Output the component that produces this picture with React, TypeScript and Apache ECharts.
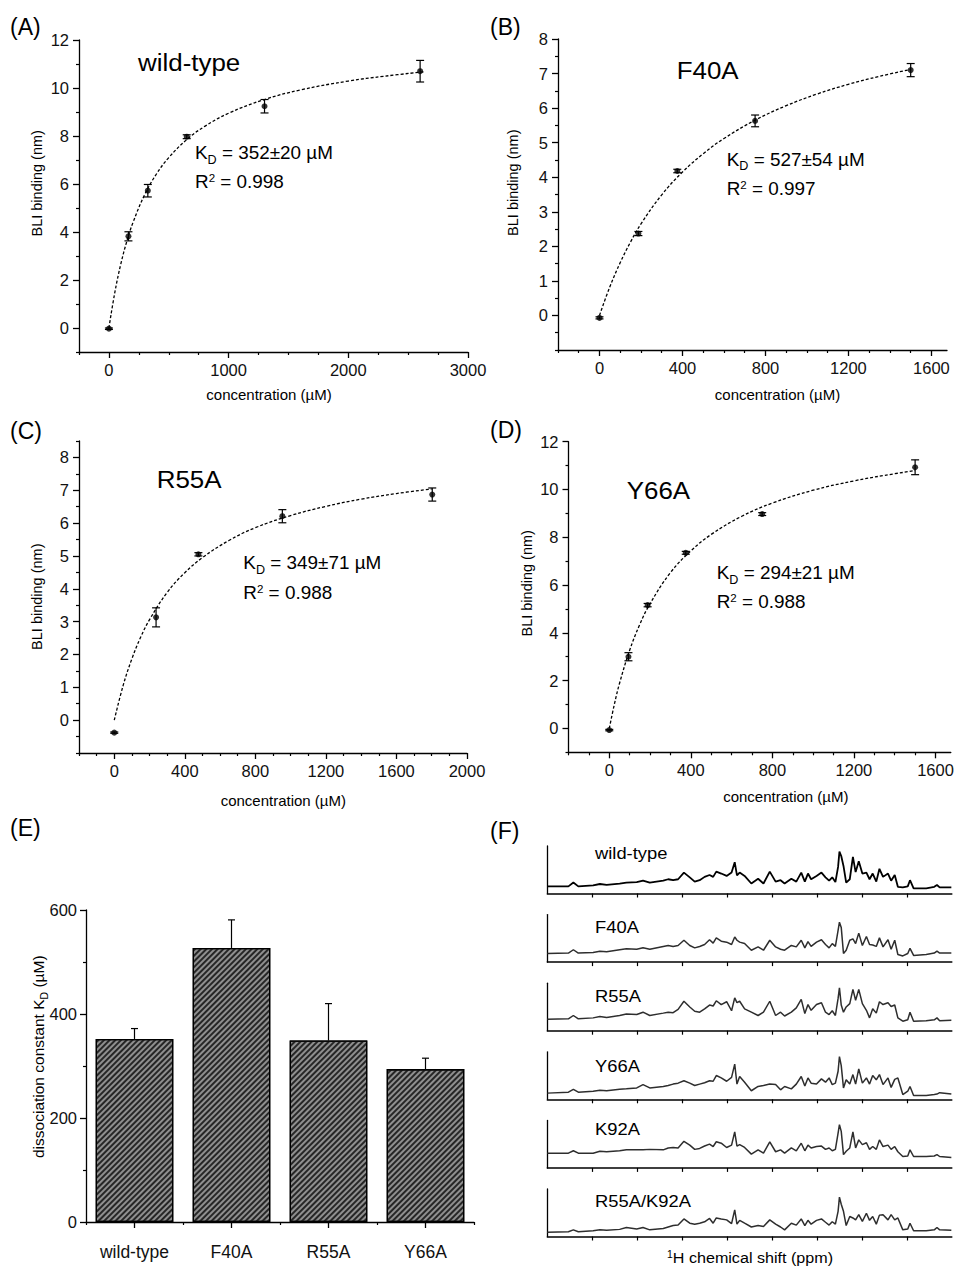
import React, { useEffect, useRef } from "react";
import * as echarts from "echarts";

const FONT = "'Liberation Sans', Arial, Helvetica, sans-serif";

// ---------- (A) wild-type ----------
const concA = [0, 163, 325, 650, 1300, 2600];
const bindA = [-0.03, 3.82, 5.72, 7.97, 9.24, 10.7];
const errA = [0.03, 0.19, 0.26, 0.08, 0.28, 0.45];
const fitXA = [0, 50, 100, 150, 200, 300, 400, 500, 650, 800, 1000, 1300, 1600, 2000, 2300, 2640];
const fitYA = [0, 1.5, 2.68, 3.62, 4.38, 5.57, 6.44, 7.1, 7.85, 8.4, 8.95, 9.52, 9.92, 10.29, 10.49, 10.68];
const xTicksA = [0, 1000, 2000, 3000];
const yTicksA = [0, 2, 4, 6, 8, 10, 12];

// ---------- (B) F40A ----------
const concB = [0, 187.5, 375, 750, 1500];
const bindB = [-0.07, 2.37, 4.18, 5.63, 7.1];
const errB = [0.03, 0.06, 0.05, 0.17, 0.19];
const fitXB = [0, 50, 100, 150, 200, 300, 400, 500, 600, 750, 900, 1050, 1200, 1350, 1500];
const fitYB = [0, 0.83, 1.53, 2.13, 2.65, 3.49, 4.15, 4.68, 5.12, 5.65, 6.07, 6.41, 6.69, 6.92, 7.12];
const xTicksB = [0, 400, 800, 1200, 1600];
const yTicksB = [0, 1, 2, 3, 4, 5, 6, 7, 8];

// ---------- (C) R55A ----------
const concC = [0, 237, 477, 953, 1803];
const bindC = [-0.38, 3.13, 5.05, 6.21, 6.87];
const errC = [0.02, 0.29, 0.05, 0.2, 0.2];
const fitXC = [0, 50, 100, 150, 200, 300, 400, 500, 650, 800, 1000, 1200, 1400, 1600, 1800];
const fitYC = [0, 1.05, 1.87, 2.53, 3.06, 3.89, 4.49, 4.95, 5.47, 5.86, 6.23, 6.51, 6.73, 6.9, 7.04];
const xTicksC = [0, 400, 800, 1200, 1600, 2000];
const yTicksC = [0, 1, 2, 3, 4, 5, 6, 7, 8];

// ---------- (D) Y66A ----------
const concD = [0, 94, 188, 375, 750, 1500];
const bindD = [-0.07, 3.0, 5.16, 7.35, 8.97, 10.93];
const errD = [0.03, 0.17, 0.07, 0.06, 0.06, 0.31];
const fitXD = [0, 25, 50, 100, 150, 200, 300, 400, 500, 650, 800, 1000, 1200, 1350, 1500];
const fitYD = [0, 1.01, 1.88, 3.27, 4.36, 5.22, 6.52, 7.43, 8.12, 8.88, 9.43, 9.97, 10.36, 10.59, 10.79];
const xTicksD = [0, 400, 800, 1200, 1600];
const yTicksD = [0, 2, 4, 6, 8, 10, 12];

// ---------- (E) dissociation constants ----------
const variants = ["wild-type", "F40A", "R55A", "Y66A"];
const kd = [352, 527, 349, 294];
const kdErr = [20, 54, 71, 21];

// ---------- (F) 1D 1H NMR spectra ----------
const shifts = [0.00,0.47,0.58,0.69,1.02,1.17,1.32,1.61,1.76,1.99,2.13,2.28,2.58,2.69,2.80,2.91,3.04,3.17,3.28,3.39,3.50,3.61,3.69,3.76,3.87,3.99,4.10,4.17,4.22,4.28,4.39,4.54,4.69,4.81,4.95,5.08,5.19,5.28,5.43,5.54,5.65,5.73,5.80,5.87,5.99,6.10,6.19,6.27,6.34,6.41,6.47,6.50,6.54,6.59,6.65,6.73,6.80,6.86,6.93,7.01,7.10,7.17,7.24,7.32,7.39,7.47,7.58,7.65,7.73,7.80,7.91,8.02,8.07,8.15,8.43,8.61,8.67,8.73,8.99];
const specWT = [1.5,1.5,2.3,1.5,1.7,2.0,1.8,2.1,2.3,2.4, 2.7,2.3,2.7,3.0,2.8,3.0,4.4,3.4,2.5,2.8, 3.5,3.9,3.5,4.6,4.2,3.7,4.4,6.6,3.8,4.4, 3.7,2.1,3.1,2.1,4.6,2.5,2.8,2.1,3.1,2.5, 4.4,2.5,4.2,3.0,3.7,4.4,3.4,2.7,3.4,2.4, 5.6,8.8,7.9,5.8,2.3,3.0,7.7,4.5,6.8,4.2, 4.4,3.0,4.2,2.5,5.2,3.5,4.2,2.7,3.9,1.4, 1.3,1.5,2.8,1.1,1.1,1.4,1.8,1.3,1.3];
const specF40A = [1.8,1.9,2.6,1.9,2.0,2.3,2.2,2.6,2.8,2.7, 3.0,2.7,3.3,3.5,3.3,3.5,4.6,3.5,3.0,3.3, 3.7,4.7,4.0,5.1,4.4,4.2,3.7,5.3,4.6,4.2, 3.9,2.5,3.2,2.5,4.6,3.2,2.7,2.5,3.5,3.2, 4.6,3.0,4.3,3.3,4.2,4.7,3.7,3.0,3.9,3.3, 6.7,8.4,7.3,1.8,2.5,4.6,4.9,3.9,6.1,3.5, 5.4,3.7,3.6,3.3,5.1,3.2,4.7,2.7,4.6,1.6, 1.3,1.8,2.9,1.4,1.6,1.9,2.3,1.9,1.9];
const specR55A = [2.4,2.5,3.2,2.5,2.7,3.0,2.8,3.2,3.5,3.4, 3.9,3.2,3.7,3.9,3.8,4.5,6.2,5.0,4.1,3.9, 4.6,5.4,5.2,6.3,5.5,6.1,4.2,6.9,5.9,6.2, 4.6,3.9,3.2,3.9,6.2,3.2,3.9,3.1,3.9,4.8, 6.6,3.6,5.5,4.3,5.5,5.9,3.9,3.4,4.2,3.2, 6.8,9.0,5.4,3.9,5.0,5.7,8.7,6.4,8.7,5.7, 4.3,2.7,4.6,3.7,6.1,5.5,5.9,5.1,5.4,2.7, 2.0,2.3,3.9,2.0,2.1,2.3,2.7,2.1,2.2];
const specY66A = [1.3,1.5,2.1,1.5,1.7,1.9,1.8,2.1,2.2,2.4, 3.1,2.4,2.7,2.9,3.2,3.4,3.9,3.4,2.9,3.2, 3.5,3.9,3.8,5.0,4.5,3.8,4.6,7.4,3.2,4.8, 3.6,1.8,2.7,2.9,3.2,3.1,2.0,2.7,2.2,3.2, 4.8,2.8,4.5,3.4,3.2,4.3,3.6,4.5,3.1,3.4, 5.9,9.0,7.1,2.4,4.1,3.2,5.2,3.2,6.4,3.4, 4.5,3.2,5.0,4.1,5.2,3.1,4.5,2.5,4.2,4.5, 1.0,1.7,2.7,0.8,0.8,1.0,1.1,1.4,1.1];
const specK92A = [3.1,3.1,3.6,3.1,3.1,3.5,3.4,3.6,3.8,3.8, 3.8,3.9,3.8,4.2,4.3,4.2,5.6,4.8,3.9,4.1, 4.6,5.0,4.5,5.5,5.2,4.3,4.8,7.6,4.6,4.9, 4.3,2.9,3.8,3.1,5.5,3.4,3.8,3.1,4.2,3.6, 5.2,3.6,4.8,4.2,4.5,4.6,3.9,4.2,3.6,3.9, 7.3,9.1,7.7,2.8,3.5,4.2,7.6,4.2,5.9,4.9, 5.3,3.9,4.5,3.9,5.9,4.5,4.8,3.9,4.5,3.4, 2.4,2.5,3.8,2.4,2.4,2.5,2.8,2.4,2.2];
const specR55AK92A = [0.9,1.0,1.4,1.0,1.2,1.4,1.3,1.5,1.9,1.6, 1.9,1.4,1.7,2.0,2.3,2.4,3.7,2.8,2.6,2.8, 3.1,3.8,2.8,3.9,3.7,3.5,2.7,5.6,2.6,3.4, 2.8,2.0,2.3,2.1,3.5,2.6,2.0,1.4,2.8,2.4, 3.7,2.3,3.4,2.6,3.4,3.7,3.0,2.4,3.1,2.6, 5.3,8.3,6.8,5.3,2.3,4.2,3.9,3.5,4.6,3.2, 4.9,3.4,4.2,2.6,4.5,4.6,3.5,4.6,3.5,3.9, 1.4,1.6,2.8,1.2,1.2,1.4,1.9,1.4,1.3];
const spectrumNames = ["wild-type", "F40A", "R55A", "Y66A", "K92A", "R55A/K92A"];
const spectra = [specWT, specF40A, specR55A, specY66A, specK92A, specR55AK92A];
const shiftTicks = [1, 2, 3, 4, 5, 6, 7, 8];

// ---------- helpers ----------
function minorTicks(min: number, max: number, step: number, majors: number[]) {
  const out: number[] = [];
  const n = Math.round((max - min) / step) + 1;
  for (let i = 0; i <= n; i++) {
    const v = +(min + i * step).toFixed(6);
    if (v > max + 1e-9) break;
    if (!majors.some((m) => Math.abs(m - v) < 1e-9)) out.push(v);
  }
  return out;
}

function valueAxes(gridIndex: number, min: number, max: number, majors: number[], minors: number[], isX: boolean) {
  const common = {
    type: "value",
    gridIndex,
    min,
    max,
    position: isX ? "bottom" : "left",
    splitLine: { show: false },
  };
  const major = {
    ...common,
    axisLine: { show: true, onZero: false, lineStyle: { color: "#000", width: 1.3 } },
    axisTick: { show: true, inside: false, customValues: majors, length: 6, lineStyle: { color: "#000", width: 1.3 } },
    axisLabel: {
      show: true,
      customValues: majors,
      fontSize: 16.5,
      fontFamily: FONT,
      color: "#111",
      margin: isX ? 9 : 10,
      formatter: (v: number) => String(v),
    },
  };
  const minor = {
    ...common,
    axisLine: { show: false, onZero: false },
    axisTick: { show: true, inside: false, customValues: minors, length: 3, lineStyle: { color: "#000", width: 1.2 } },
    axisLabel: { show: false },
  };
  return [major, minor];
}

function errRender(capBottom: boolean, half: number) {
  return (params: any, api: any) => {
    const x = api.value(0);
    const lo = api.value(1);
    const hi = api.value(2);
    const a = api.coord([x, lo]);
    const b = api.coord([x, hi]);
    const st = { stroke: "#000", lineWidth: 1.2 };
    const children: any[] = [
      { type: "line", shape: { x1: a[0], y1: a[1], x2: b[0], y2: b[1] }, style: st },
      { type: "line", shape: { x1: b[0] - half, y1: b[1], x2: b[0] + half, y2: b[1] }, style: st },
    ];
    if (capBottom) children.push({ type: "line", shape: { x1: a[0] - half, y1: a[1], x2: a[0] + half, y2: a[1] }, style: st });
    return { type: "group", children };
  };
}

function txt(x: number, y: number, text: string, size: number, opt: any = {}) {
  const align = opt.align || "left";
  return {
    type: "text",
    x,
    y,
    rotation: opt.rotation || 0,
    scaleX: opt.scaleX || 1,
    silent: true,
    z: 100,
    style: {
      text,
      fontSize: size,
      fontFamily: FONT,
      fill: "#000",
      align,
      verticalAlign: "middle",
      textAlign: align,
      textVerticalAlign: "middle",
      rich: opt.rich,
    },
  };
}

const kdRich = {
  n: { fontSize: 18, fontFamily: FONT, fill: "#000", lineHeight: 26, verticalAlign: "middle" },
  s: { fontSize: 12, fontFamily: FONT, fill: "#000", lineHeight: 26, verticalAlign: "bottom" },
};
const r2Rich = {
  n: { fontSize: 18, fontFamily: FONT, fill: "#000", lineHeight: 18, verticalAlign: "middle" },
  p: { fontSize: 11, fontFamily: FONT, fill: "#000", lineHeight: 18, verticalAlign: "top" },
};

export default function App() {
  const ref = useRef<HTMLDivElement>(null);

  useEffect(() => {
    if (!ref.current) return;
    const chart = echarts.init(ref.current, undefined, { renderer: "svg" });

    const panels = [
      { conc: concA, bind: bindA, err: errA, fx: fitXA, fy: fitYA, xMin: -250, xMax: 3000, xMaj: xTicksA, xStep: 250, yMin: -1, yMax: 12, yMaj: yTicksA, yStep: 1, grid: { left: 79, top: 40, width: 389, height: 312 } },
      { conc: concB, bind: bindB, err: errB, fx: fitXB, fy: fitYB, xMin: -200, xMax: 1675, xMaj: xTicksB, xStep: 100, yMin: -1, yMax: 8, yMaj: yTicksB, yStep: 0.5, grid: { left: 558, top: 39, width: 389, height: 311 } },
      { conc: concC, bind: bindC, err: errC, fx: fitXC, fy: fitYC, xMin: -200, xMax: 2000, xMaj: xTicksC, xStep: 100, yMin: -1, yMax: 8.5, yMaj: yTicksC, yStep: 0.5, grid: { left: 79, top: 441, width: 388, height: 312 } },
      { conc: concD, bind: bindD, err: errD, fx: fitXD, fy: fitYD, xMin: -200, xMax: 1675, xMaj: xTicksD, xStep: 100, yMin: -1, yMax: 12, yMaj: yTicksD, yStep: 1, grid: { left: 568.5, top: 441.7, width: 382.3, height: 310.6 } },
    ];

    const grid: any[] = [];
    const xAxis: any[] = [];
    const yAxis: any[] = [];
    const series: any[] = [];

    panels.forEach((p) => {
      const gi = grid.length;
      grid.push({ ...p.grid, containLabel: false, outerBoundsMode: "none" });
      const xi = xAxis.length;
      const yi = yAxis.length;
      xAxis.push(...valueAxes(gi, p.xMin, p.xMax, p.xMaj, minorTicks(p.xMin, p.xMax, p.xStep, p.xMaj), true));
      yAxis.push(...valueAxes(gi, p.yMin, p.yMax, p.yMaj, minorTicks(p.yMin, p.yMax, p.yStep, p.yMaj), false));
      series.push({
        type: "line",
        xAxisIndex: xi,
        yAxisIndex: yi,
        data: p.fx.map((x, i) => [x, p.fy[i]]),
        smooth: 0.4,
        showSymbol: false,
        symbol: "none",
        lineStyle: { color: "#000", width: 1.3, type: [3, 2] },
        z: 2,
        silent: true,
      });
      series.push({
        type: "custom",
        xAxisIndex: xi,
        yAxisIndex: yi,
        data: p.conc.map((c, i) => [c, p.bind[i] - p.err[i], p.bind[i] + p.err[i]]),
        encode: { x: 0, y: [1, 2] },
        renderItem: errRender(true, 4),
        z: 3,
        silent: true,
      });
      series.push({
        type: "scatter",
        xAxisIndex: xi,
        yAxisIndex: yi,
        data: p.conc.map((c, i) => [c, p.bind[i]]),
        symbol: "circle",
        symbolSize: 6,
        itemStyle: { color: "#000" },
        z: 4,
        silent: true,
      });
    });

    // ---- (E) bar chart ----
    const ge = grid.length;
    grid.push({ left: 86, top: 910, width: 388, height: 312, containLabel: false, outerBoundsMode: "none" });
    const xe = xAxis.length;
    xAxis.push({
      type: "category",
      gridIndex: ge,
      data: variants,
      position: "bottom",
      axisLine: { show: true, onZero: false, lineStyle: { color: "#000", width: 1.3 } },
      axisTick: { show: true, alignWithLabel: true, length: 6, lineStyle: { color: "#000", width: 1.3 } },
      axisLabel: { fontSize: 17.5, fontFamily: FONT, color: "#111", margin: 21 },
      splitLine: { show: false },
    });
    xAxis.push({
      type: "category",
      gridIndex: ge,
      data: variants,
      position: "bottom",
      axisLine: { show: false, onZero: false },
      axisTick: { show: true, alignWithLabel: false, length: 3, lineStyle: { color: "#000", width: 1.2 } },
      axisLabel: { show: false },
      splitLine: { show: false },
    });
    const ye = yAxis.length;
    yAxis.push({
      type: "value",
      gridIndex: ge,
      min: 0,
      max: 600,
      interval: 200,
      position: "left",
      axisLine: { show: true, onZero: false, lineStyle: { color: "#000", width: 1.3 } },
      axisTick: { show: true, length: 6, lineStyle: { color: "#000", width: 1.3 } },
      minorTick: { show: true, splitNumber: 2, length: 3, lineStyle: { color: "#000", width: 1.2 } },
      axisLabel: { fontSize: 16.5, fontFamily: FONT, color: "#111", margin: 9 },
      splitLine: { show: false },
      minorSplitLine: { show: false },
    });
    series.push({
      type: "bar",
      xAxisIndex: xe,
      yAxisIndex: ye,
      data: kd,
      barWidth: "80%",
      itemStyle: {
        color: "#8f8f8f",
        borderColor: "#000",
        borderWidth: 1.3,
        decal: {
          symbol: "rect",
          symbolSize: 1,
          symbolKeepAspect: false,
          color: "#262626",
          dashArrayX: [1, 0],
          dashArrayY: [1.2, 1.3],
          rotation: -Math.PI / 4,
        },
      },
      silent: true,
      z: 2,
    });
    series.push({
      type: "custom",
      xAxisIndex: xe,
      yAxisIndex: ye,
      data: kd.map((v, i) => [i, v, v + kdErr[i]]),
      encode: { x: 0, y: [1, 2] },
      renderItem: errRender(false, 3.5),
      z: 1,
      silent: true,
    });

    // ---- (F) spectra ----
    spectra.forEach((s, k) => {
      const gi = grid.length;
      const top = 846 + k * 68.6;
      grid.push({ left: 547.3, top, width: 404.5, height: 47.5, containLabel: false, outerBoundsMode: "none" });
      const xi = xAxis.length;
      const yi = yAxis.length;
      xAxis.push({
        type: "value",
        gridIndex: gi,
        min: 0,
        max: 9,
        position: "bottom",
        axisLine: { show: true, onZero: false, lineStyle: { color: "#000", width: 1.5 } },
        axisTick: { show: true, customValues: shiftTicks, length: 4, lineStyle: { color: "#000", width: 1.2 } },
        axisLabel: { show: false },
        splitLine: { show: false },
      });
      yAxis.push({
        type: "value",
        gridIndex: gi,
        min: 0,
        max: 10,
        position: "left",
        axisLine: { show: true, onZero: false, lineStyle: { color: "#000", width: 1.3 } },
        axisTick: { show: false },
        axisLabel: { show: false },
        splitLine: { show: false },
      });
      series.push({
        type: "line",
        xAxisIndex: xi,
        yAxisIndex: yi,
        data: shifts.map((x, i) => [x, s[i]]),
        showSymbol: false,
        symbol: "none",
        lineStyle: { color: k === 0 ? "#000" : "#2e2e2e", width: k === 0 ? 1.8 : 1.5 },
        silent: true,
      });
    });

    // ---- texts ----
    const graphic: any[] = [
      txt(10, 27, "(A)", 23),
      txt(490, 27, "(B)", 23),
      txt(10, 431, "(C)", 23),
      txt(490, 430, "(D)", 23),
      txt(10, 827.5, "(E)", 23),
      txt(490, 831, "(F)", 23),

      txt(138, 62, "wild-type", 24, { scaleX: 1.08 }),
      txt(676.7, 70.7, "F40A", 24, { scaleX: 1.08 }),
      txt(156.7, 479.3, "R55A", 24, { scaleX: 1.08 }),
      txt(626.7, 490, "Y66A", 24, { scaleX: 1.08 }),

      txt(195, 152.7, "{n|K}{s|D}{n| = 352±20 µM}", 18, { rich: kdRich, scaleX: 1.05 }),
      txt(195, 181.7, "{n|R}{p|2}{n| = 0.998}", 18, { rich: r2Rich, scaleX: 1.05 }),
      txt(726.7, 159.3, "{n|K}{s|D}{n| = 527±54 µM}", 18, { rich: kdRich, scaleX: 1.05 }),
      txt(726.7, 188.3, "{n|R}{p|2}{n| = 0.997}", 18, { rich: r2Rich, scaleX: 1.05 }),
      txt(243.3, 562.7, "{n|K}{s|D}{n| = 349±71 µM}", 18, { rich: kdRich, scaleX: 1.05 }),
      txt(243.3, 592.7, "{n|R}{p|2}{n| = 0.988}", 18, { rich: r2Rich, scaleX: 1.05 }),
      txt(716.7, 572.7, "{n|K}{s|D}{n| = 294±21 µM}", 18, { rich: kdRich, scaleX: 1.05 }),
      txt(716.7, 601.7, "{n|R}{p|2}{n| = 0.988}", 18, { rich: r2Rich, scaleX: 1.05 }),

      txt(269, 394, "concentration (µM)", 15, { align: "center" }),
      txt(777.5, 394, "concentration (µM)", 15, { align: "center" }),
      txt(283.3, 800.7, "concentration (µM)", 15, { align: "center" }),
      txt(785.8, 796.7, "concentration (µM)", 15, { align: "center" }),

      txt(36.7, 183.3, "BLI binding (nm)", 14.5, { align: "center", rotation: Math.PI / 2 }),
      txt(513.3, 182.7, "BLI binding (nm)", 14.5, { align: "center", rotation: Math.PI / 2 }),
      txt(36.7, 596.7, "BLI binding (nm)", 14.5, { align: "center", rotation: Math.PI / 2 }),
      txt(526.7, 583.3, "BLI binding (nm)", 14.5, { align: "center", rotation: Math.PI / 2 }),

      txt(38, 1056.7, "{n|dissociation constant K}{s|D}{n| (µM)}", 15.5, {
        align: "center",
        rotation: Math.PI / 2,
        rich: {
          n: { fontSize: 15.5, fontFamily: FONT, fill: "#000", lineHeight: 22, verticalAlign: "middle" },
          s: { fontSize: 10.5, fontFamily: FONT, fill: "#000", lineHeight: 22, verticalAlign: "bottom" },
        },
      }),

      txt(750, 1258, "{p|1}{n|H chemical shift (ppm)}", 15.5, {
        align: "center",
        scaleX: 1.04,
        rich: {
          n: { fontSize: 15.5, fontFamily: FONT, fill: "#000", lineHeight: 16, verticalAlign: "middle" },
          p: { fontSize: 10, fontFamily: FONT, fill: "#000", lineHeight: 16, verticalAlign: "top" },
        },
      }),
    ];
    const specLabelY = [853.5, 927, 996.5, 1066, 1129, 1201.5];
    spectrumNames.forEach((name, k) => {
      graphic.push(txt(595, specLabelY[k], name, 17, { scaleX: 1.08 }));
    });

    chart.setOption({
      animation: false,
      backgroundColor: "#fff",
      textStyle: { fontFamily: FONT },
      grid,
      xAxis,
      yAxis,
      series,
      graphic,
    });

    return () => {
      chart.dispose();
    };
  }, []);

  return (
    <div
      ref={ref}
      style={{ position: "fixed", left: 0, top: 0, width: 954, height: 1267, background: "#fff" }}
    />
  );
}
